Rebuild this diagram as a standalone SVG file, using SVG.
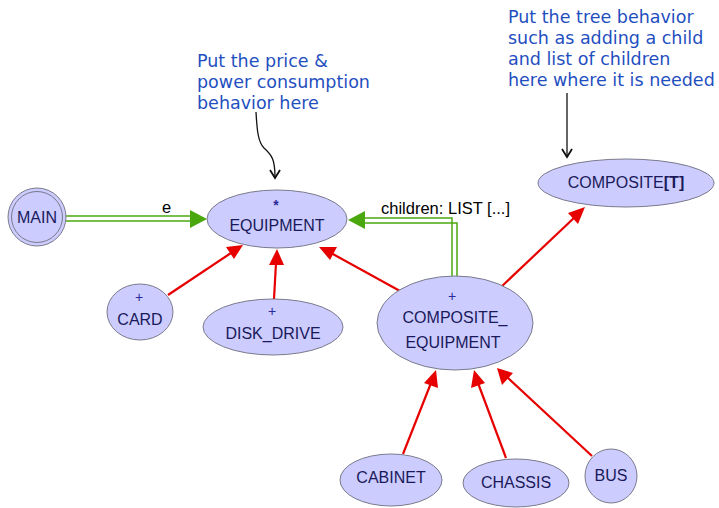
<svg xmlns="http://www.w3.org/2000/svg" width="719" height="508" viewBox="0 0 719 508">
<style>
.node{fill:#ccccff;stroke:#7a7a8c;stroke-width:1}
.lbl{font-family:"Liberation Sans",Arial,sans-serif;font-size:16px;fill:#1a1a5a;text-anchor:middle}
.sym{font-family:"Liberation Sans",Arial,sans-serif;font-size:14px;fill:#2a2a9a;text-anchor:middle}
.note{font-family:"DejaVu Sans",Verdana,sans-serif;font-size:17.5px;fill:#1f4fbf}
.inh{stroke:#e60000;stroke-width:2.2;fill:none}
.cli{stroke:#4aa80e;stroke-width:1.5;fill:none}
.elbl{font-family:"Liberation Sans",Arial,sans-serif;font-size:16.5px;fill:#000}
</style>
<g id="connectors">
<line class="cli" x1="66" y1="216" x2="192" y2="216"/>
<line class="cli" x1="66" y1="221" x2="192" y2="221"/>
<polygon points="207,219 190,210 190,228" fill="#4aa80e"/>
<text class="elbl" x="162" y="213">e</text>
<polyline class="cli" points="452,277 452,218 363,218"/>
<polyline class="cli" points="457,277 457,223 363,223"/>
<polygon points="348,220 365,211 365,229" fill="#4aa80e"/>
<text class="elbl" x="381" y="214">children: LIST [...]</text>
<line class="inh" x1="168" y1="295" x2="231" y2="253"/>
<polygon points="243,245 226,247 234,259" fill="#e60000"/>
<line class="inh" x1="274" y1="299" x2="276" y2="263"/>
<polygon points="277,249 269,265 284,265" fill="#e60000"/>
<line class="inh" x1="400" y1="291" x2="331" y2="253"/>
<polygon points="319,247 330,260 337,247" fill="#e60000"/>
<line class="inh" x1="501" y1="287" x2="575" y2="217"/>
<polygon points="585,207 568,213 578,224" fill="#e60000"/>
<line class="inh" x1="403" y1="454" x2="431" y2="383"/>
<polygon points="436,370 424,383 438,388" fill="#e60000"/>
<line class="inh" x1="506" y1="458" x2="478" y2="383"/>
<polygon points="474,370 471,388 485,383" fill="#e60000"/>
<line class="inh" x1="592" y1="456" x2="507" y2="377"/>
<polygon points="497,368 502,385 513,373" fill="#e60000"/>
<path d="M256,112 C257,130 258,142 264,148 C272,155 275,160 275,177" fill="none" stroke="#111" stroke-width="1.3"/>
<polyline points="270,170 275,178 280,170" fill="none" stroke="#111" stroke-width="1.8"/>
<line x1="567" y1="93" x2="567" y2="157" stroke="#111" stroke-width="1.3"/>
<polyline points="562,149 567,157 572,149" fill="none" stroke="#111" stroke-width="1.8"/>
</g>
<g id="MAIN">
<circle class="node" cx="37" cy="217" r="29"/>
<circle cx="37" cy="217" r="25.5" fill="none" stroke="#7a7a8c" stroke-width="1"/>
<text class="lbl" x="37" y="223">MAIN</text>
</g>
<g id="EQUIPMENT">
<ellipse class="node" cx="277" cy="219" rx="70" ry="29"/>
<text class="sym" x="276" y="210" font-weight="bold">*</text>
<text class="lbl" x="277" y="231">EQUIPMENT</text>
</g>
<g id="COMPOSITE">
<ellipse class="node" cx="626" cy="183" rx="88" ry="24"/>
<text class="lbl" x="626" y="188">COMPOSITE<tspan font-weight="bold">[T]</tspan></text>
</g>
<g id="CARD">
<ellipse class="node" cx="140" cy="312" rx="33" ry="28"/>
<text class="sym" x="139" y="302">+</text>
<text class="lbl" x="140" y="325">CARD</text>
</g>
<g id="DISK_DRIVE">
<ellipse class="node" cx="273" cy="327" rx="70" ry="28"/>
<text class="sym" x="272" y="316">+</text>
<text class="lbl" x="273" y="339">DISK_DRIVE</text>
</g>
<g id="COMPOSITE_EQUIPMENT">
<ellipse class="node" cx="455" cy="323" rx="78" ry="47"/>
<text class="sym" x="452" y="301">+</text>
<text class="lbl" x="455" y="323">COMPOSITE_</text>
<text class="lbl" x="453" y="348">EQUIPMENT</text>
</g>
<g id="CABINET">
<ellipse class="node" cx="391" cy="480" rx="51" ry="26"/>
<text class="lbl" x="391" y="483">CABINET</text>
</g>
<g id="CHASSIS">
<ellipse class="node" cx="516" cy="483" rx="53" ry="24"/>
<text class="lbl" x="516" y="488">CHASSIS</text>
</g>
<g id="BUS">
<ellipse class="node" cx="611" cy="476" rx="26" ry="27"/>
<text class="lbl" x="611" y="481">BUS</text>
</g>
<g id="notes">
<text class="note" x="197" y="67">Put the price &amp;</text>
<text class="note" x="197" y="88">power consumption</text>
<text class="note" x="197" y="109">behavior here</text>
<text class="note" x="508" y="23">Put the tree behavior</text>
<text class="note" x="508" y="44">such as adding a child</text>
<text class="note" x="508" y="65">and list of children</text>
<text class="note" x="508" y="86">here where it is needed</text>
</g>
</svg>
